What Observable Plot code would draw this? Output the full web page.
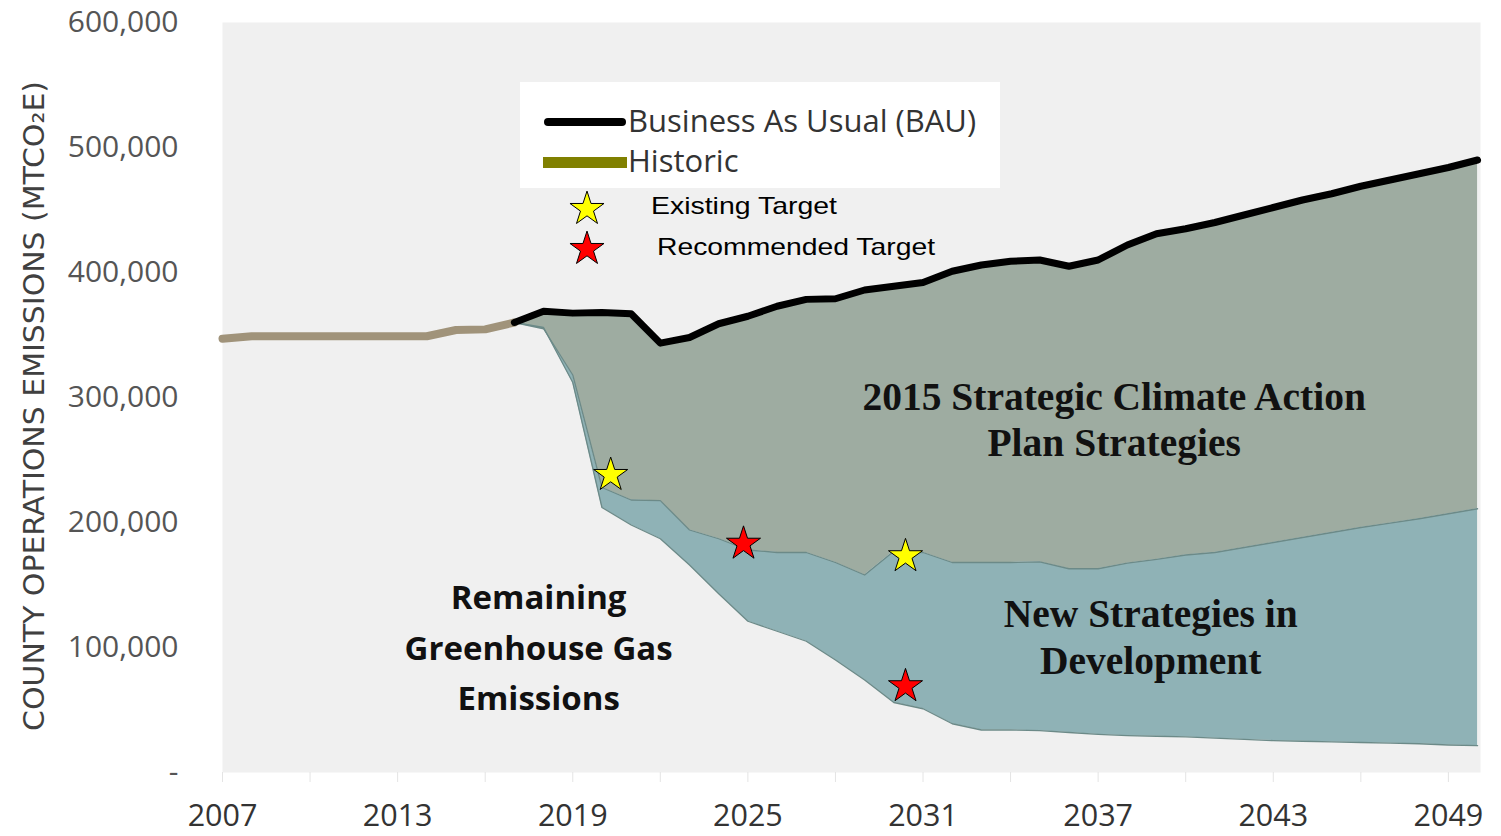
<!DOCTYPE html>
<html>
<head>
<meta charset="utf-8">
<script src="https://cdn.jsdelivr.net/npm/d3@7"></script>
<script src="https://cdn.jsdelivr.net/npm/@observablehq/plot@0.6"></script>
<style>
  html, body { margin: 0; padding: 0; background: #ffffff; }
  #chart svg { display: block; }
</style>
</head>
<body>
<div id="chart"></div>
<script>
// ---------------- DATA ----------------
const historicYears  = [2007, 2008, 2009, 2010, 2011, 2012, 2013, 2014, 2015, 2016, 2017];
const historicValues = [347000, 349000, 349000, 349000, 349000, 349000, 349000, 349000, 354000, 354500, 360000];

const projectionYears = [2017, 2018, 2019, 2020, 2021, 2022, 2023, 2024, 2025, 2026, 2027, 2028,
  2029, 2030, 2031, 2032, 2033, 2034, 2035, 2036, 2037, 2038, 2039, 2040, 2041, 2042, 2043, 2044,
  2045, 2046, 2047, 2048, 2049, 2050];
// Business As Usual (BAU)
const bauValues = [360000, 369000, 367500, 368000, 367000, 343500, 348000, 359000, 365000, 373000,
  378500, 379000, 386000, 389000, 392000, 401000, 406000, 409000, 410000, 405000, 410000, 422000,
  431000, 435000, 440000, 446000, 452000, 458000, 463000, 469000, 474000, 479000, 484000, 490000];
// Emissions after 2015 Strategic Climate Action Plan strategies
const scapValues = [360000, 355000, 318000, 228000, 218000, 217500, 194000, 187000, 178000, 176000,
  176000, 168000, 158000, 177000, 176000, 168000, 168000, 168000, 168500, 163000, 163000, 167500,
  170500, 174000, 176000, 180000, 184000, 188000, 192000, 196000, 199500, 203000, 207000, 211000];
// Remaining emissions after new strategies in development
const remainingValues = [360000, 356000, 312000, 212000, 198000, 187000, 166000, 143000, 121000, 113000,
  105000, 90000, 74000, 56000, 51000, 39000, 34000, 34000, 33500, 32000, 30500, 29500,
  29000, 28500, 27500, 26500, 25500, 25000, 24500, 24000, 23500, 23000, 22000, 21500];

const existingTargetYears  = [2020.3, 2030.4];
const existingTargetValues = [238000, 173000];
const recommendedTargetYears  = [2024.85, 2030.4];
const recommendedTargetValues = [183000, 69000];

const xTickLabels = [2007, 2013, 2019, 2025, 2031, 2037, 2043, 2049];
const xMinorTicks = [2007, 2010, 2013, 2016, 2019, 2022, 2025, 2028, 2031, 2034, 2037, 2040, 2043, 2046, 2049];
const yTicks = [0, 100000, 200000, 300000, 400000, 500000, 600000];

const legendLabels = ["Business As Usual (BAU)", "Historic", "Existing Target", "Recommended Target"];
const areaLabels = ["2015 Strategic Climate Action\nPlan Strategies", "New Strategies in\nDevelopment", "Remaining\nGreenhouse Gas\nEmissions"];
const yAxisTitle = "COUNTY OPERATIONS EMISSIONS (MTCO\u2082E)";

// ---------------- TABLES ----------------
const projection = projectionYears.map((year, i) => ({
  year, bau: bauValues[i], scap: scapValues[i], remaining: remainingValues[i]
}));
const historic = historicYears.map((year, i) => ({year, value: historicValues[i]}));
const existing = existingTargetYears.map((year, i) => ({year, value: existingTargetValues[i]}));
const recommended = recommendedTargetYears.map((year, i) => ({year, value: recommendedTargetValues[i]}));

const starR = 10.7;
const serif = "'Liberation Serif', 'Times New Roman', serif";

const plot = Plot.plot({
  width: 1501,
  height: 836,
  marginLeft: 222,
  marginRight: 21,
  marginTop: 22,
  marginBottom: 64,
  x: {domain: [2007, 2050.1]},
  y: {domain: [0, 600000]},
  style: {fontFamily: "'Open Sans', sans-serif", background: "#ffffff", overflow: "visible"},
  marks: [
    Plot.frame({fill: "#f0f0f0", stroke: null}),
    Plot.axisX({ticks: xMinorTicks, tickSize: 10, stroke: "#e4e4e4", tickFormat: () => "", label: null}),
    Plot.areaY(projection, {x: "year", y1: "scap", y2: "bau", fill: "#9eaca1"}),
    Plot.areaY(projection, {x: "year", y1: "remaining", y2: "scap", fill: "#8fb2b6"}),
    Plot.lineY(projection, {x: "year", y: "scap", stroke: "#6c8a88", strokeWidth: 1.3}),
    Plot.lineY(projection, {x: "year", y: "remaining", stroke: "#6c8a88", strokeWidth: 1.3}),
    Plot.lineY(historic, {x: "year", y: "value", stroke: "#a0937a", strokeWidth: 8, strokeLinejoin: "round"}),
    Plot.lineY(projection, {x: "year", y: "bau", stroke: "#000000", strokeWidth: 7, strokeLinejoin: "round"}),
    Plot.axisY({ticks: yTicks, tickSize: 0, tickPadding: 44, fontSize: 30, fill: "#555555",
      tickFormat: d => d === 0 ? "-" : d3.format(",")(d), label: null}),
    Plot.axisX({ticks: xTickLabels, tickSize: 0, tickPadding: 32, fontSize: 30.5, fill: "#333333",
      tickFormat: d => String(d), label: null}),
    Plot.text([areaLabels[0]], {x: () => 2037.55, y: () => 283500, text: d => d,
      fontFamily: serif, fontWeight: "bold", fontSize: 39.5, lineHeight: 1.17, fill: "#111111"}),
    Plot.text([areaLabels[1]], {x: () => 2038.8, y: () => 110000, text: d => d,
      fontFamily: serif, fontWeight: "bold", fontSize: 39.5, lineHeight: 1.19, fill: "#111111"}),
    Plot.text([areaLabels[2]], {x: () => 2017.83, y: () => 103000, text: d => d,
      fontFamily: "'Open Sans', sans-serif", fontWeight: "bold", fontSize: 33,
      lineHeight: 1.53, fill: "#111111"}),
    Plot.dot(existing, {x: "year", y: "value", symbol: "star", r: starR, fill: "#ffff00", stroke: "#000000", strokeWidth: 1}),
    Plot.dot(recommended, {x: "year", y: "value", symbol: "star", r: starR, fill: "#ff0000", stroke: "#000000", strokeWidth: 1})
  ]
});

document.getElementById("chart").appendChild(plot);

// ---------------- Y AXIS TITLE ----------------
const svg = d3.select(plot);
svg.append("text")
  .attr("transform", "translate(44,406) rotate(-90)")
  .attr("text-anchor", "middle")
  .attr("font-family", "'Liberation Sans Narrow', 'DejaVu Sans Condensed', sans-serif")
  .attr("font-size", 28)
  .attr("fill", "#404040")
  .attr("textLength", 650)
  .attr("lengthAdjust", "spacingAndGlyphs")
  .text(yAxisTitle);

// ---------------- LEGEND ----------------
const lg = svg.append("g").attr("class", "legend").attr("text-anchor", "start");
lg.append("rect").attr("x", 520).attr("y", 82).attr("width", 480).attr("height", 106).attr("fill", "#ffffff");
lg.append("line").attr("x1", 548).attr("x2", 622).attr("y1", 122).attr("y2", 122)
  .attr("stroke", "#000").attr("stroke-width", 8).attr("stroke-linecap", "round");
lg.append("text").attr("x", 628).attr("y", 132).attr("text-anchor", "start")
  .attr("font-family", "'Open Sans', sans-serif")
  .attr("font-size", 31).attr("fill", "#333333").text(legendLabels[0]);
lg.append("rect").attr("x", 543).attr("y", 157).attr("width", 84).attr("height", 11).attr("fill", "#808000");
lg.append("text").attr("x", 628).attr("y", 172).attr("text-anchor", "start")
  .attr("font-family", "'Open Sans', sans-serif")
  .attr("font-size", 31).attr("fill", "#333333").text(legendLabels[1]);
const starPath = d3.symbol(d3.symbolStar, Math.PI * starR * starR)();
lg.append("path").attr("d", starPath).attr("transform", "translate(587,209)")
  .attr("fill", "#ffff00").attr("stroke", "#000").attr("stroke-width", 1);
lg.append("path").attr("d", starPath).attr("transform", "translate(587,249)")
  .attr("fill", "#ff0000").attr("stroke", "#000").attr("stroke-width", 1);
lg.append("text").attr("x", 651).attr("y", 214).attr("text-anchor", "start")
  .attr("font-family", "'Liberation Sans', Arial, sans-serif")
  .attr("font-size", 24).attr("fill", "#000000")
  .attr("textLength", 186).attr("lengthAdjust", "spacingAndGlyphs").text(legendLabels[2]);
lg.append("text").attr("x", 657).attr("y", 255).attr("text-anchor", "start")
  .attr("font-family", "'Liberation Sans', Arial, sans-serif")
  .attr("font-size", 24).attr("fill", "#000000")
  .attr("textLength", 278).attr("lengthAdjust", "spacingAndGlyphs").text(legendLabels[3]);
</script>
</body>
</html>
